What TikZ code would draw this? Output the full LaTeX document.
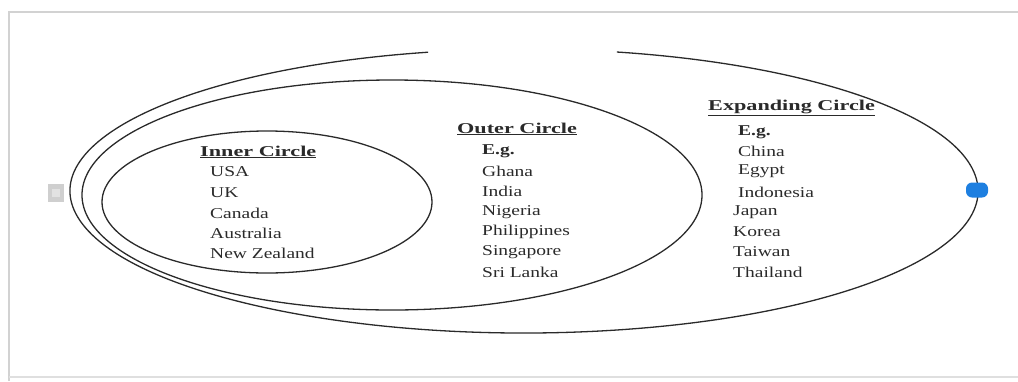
\documentclass[tikz,border=0pt]{standalone}
\usepackage{fontspec}
\newfontfamily\titlefont[FakeStretch=1.48]{Liberation Serif}
\newfontfamily\itemfont[FakeStretch=1.3]{Liberation Serif}
\definecolor{ink}{HTML}{2A2A2A}
\definecolor{frame}{HTML}{D2D2D2}
\definecolor{handleblue}{HTML}{1E7FE0}
\definecolor{handlegray}{HTML}{CFCFCF}
\tikzset{
  ring/.style={draw=ink, line width=1.3pt},
  ttl/.style={anchor=west, inner sep=0pt, text=ink, font=\titlefont\bfseries\fontsize{15}{17}\selectfont},
  itm/.style={anchor=west, inner sep=0pt, text=ink, font=\itemfont\fontsize{15}{17}\selectfont},
}
\begin{document}
\begin{tikzpicture}[x=1pt,y=-1pt]
\useasboundingbox (0,0) rectangle (1018,381);
% screenshot frame
\draw[frame, line width=2pt] (9,381) -- (9,12) -- (1018,12);
\draw[frame!70, line width=2pt] (9,377) -- (1018,377);
% ellipses
\draw[ring] (267,202) ellipse [x radius=165pt, y radius=71pt];
\draw[ring] (392,195) ellipse [x radius=310pt, y radius=115pt];
\draw[ring] (524,191) ++(102.2:454pt and 142pt) coordinate (gapL)
  arc [start angle=102.2, end angle=438.2, x radius=454pt, y radius=142pt] coordinate (gapR);
% handles
\node[fill=handlegray, minimum width=16pt, minimum height=18pt, inner sep=0pt] (hL) at (56,193) {};
\node[fill=handlegray!60, minimum width=8pt, minimum height=8pt, inner sep=0pt] (hLi) at (56,193) {};
\node[fill=handleblue, rounded corners=6pt, minimum width=22pt, minimum height=15pt, inner sep=0pt] (hR) at (977,190) {};
% Inner circle
\node[ttl] (tInner) at (200,152) {\underline{Inner Circle}};
\node[itm] (i1) at (210,172) {USA};
\node[itm] (i2) at (210,193) {UK};
\node[itm] (i3) at (210,213) {Canada};
\node[itm] (i4) at (210,233) {Australia};
\node[itm] (i5) at (210,253) {New Zealand};
% Outer circle
\node[ttl] (tOuter) at (457,129) {\underline{Outer Circle}};
\node[itm,font=\itemfont\bfseries\fontsize{15}{17}\selectfont] (o0) at (482,151) {E.g.};
\node[itm] (o1) at (482,171) {Ghana};
\node[itm] (o2) at (482,191) {India};
\node[itm] (o3) at (482,212) {Nigeria};
\node[itm] (o4) at (482,232) {Philippines};
\node[itm] (o5) at (482,252) {Singapore};
\node[itm] (o6) at (482,272) {Sri Lanka};
% Expanding circle
\node[ttl] (tExp) at (708,108) {\underline{Expanding Circle}};
\node[itm,font=\itemfont\bfseries\fontsize{15}{17}\selectfont] (e0) at (738,132) {E.g.};
\node[itm] (e1) at (738,151) {China};
\node[itm] (e2) at (738,171) {Egypt};
\node[itm] (e3) at (738,192) {Indonesia};
\node[itm] (e4) at (733,212) {Japan};
\node[itm] (e5) at (733,232) {Korea};
\node[itm] (e6) at (733,252) {Taiwan};
\node[itm] (e7) at (733,272) {Thailand};
\end{tikzpicture}
\end{document}
